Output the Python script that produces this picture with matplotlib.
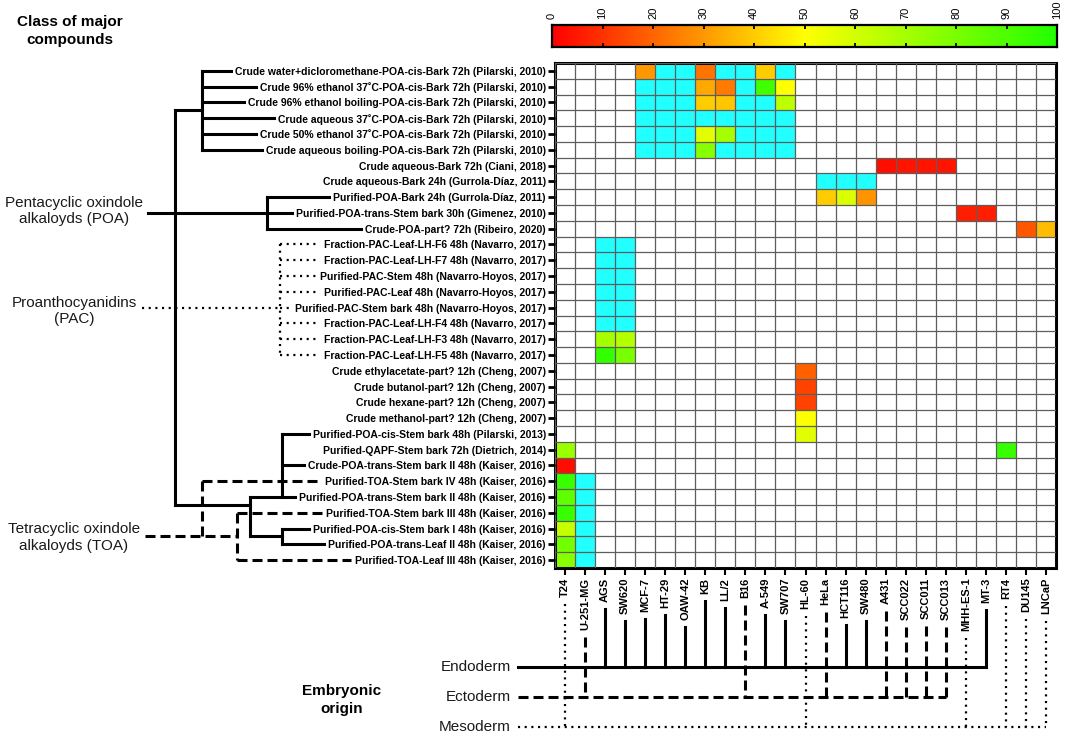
import numpy as np
import matplotlib
matplotlib.use('Agg')
import matplotlib.pyplot as plt
from matplotlib.colors import LinearSegmentedColormap, ListedColormap

plt.rcParams['font.family'] = ['Liberation Sans', 'DejaVu Sans']
plt.rcParams['lines.scale_dashes'] = False

W, H, DPI = 1065, 736, 100

# ---------------- data ----------------
rows = [
    "Crude water+dicloromethane-POA-cis-Bark 72h (Pilarski, 2010)",
    "Crude 96% ethanol 37˚C-POA-cis-Bark 72h (Pilarski, 2010)",
    "Crude 96% ethanol boiling-POA-cis-Bark 72h (Pilarski, 2010)",
    "Crude aqueous 37˚C-POA-cis-Bark 72h (Pilarski, 2010)",
    "Crude 50% ethanol 37˚C-POA-cis-Bark 72h (Pilarski, 2010)",
    "Crude aqueous boiling-POA-cis-Bark 72h (Pilarski, 2010)",
    "Crude aqueous-Bark 72h (Ciani, 2018)",
    "Crude aqueous-Bark 24h (Gurrola-Díaz, 2011)",
    "Purified-POA-Bark 24h (Gurrola-Díaz, 2011)",
    "Purified-POA-trans-Stem bark 30h (Gimenez, 2010)",
    "Crude-POA-part? 72h (Ribeiro, 2020)",
    "Fraction-PAC-Leaf-LH-F6 48h (Navarro, 2017)",
    "Fraction-PAC-Leaf-LH-F7 48h (Navarro, 2017)",
    "Purified-PAC-Stem 48h (Navarro-Hoyos, 2017)",
    "Purified-PAC-Leaf 48h (Navarro-Hoyos, 2017)",
    "Purified-PAC-Stem bark 48h (Navarro-Hoyos, 2017)",
    "Fraction-PAC-Leaf-LH-F4 48h (Navarro, 2017)",
    "Fraction-PAC-Leaf-LH-F3 48h (Navarro, 2017)",
    "Fraction-PAC-Leaf-LH-F5 48h (Navarro, 2017)",
    "Crude ethylacetate-part? 12h (Cheng, 2007)",
    "Crude butanol-part? 12h (Cheng, 2007)",
    "Crude hexane-part? 12h (Cheng, 2007)",
    "Crude methanol-part? 12h (Cheng, 2007)",
    "Purified-POA-cis-Stem bark 48h (Pilarski, 2013)",
    "Purified-QAPF-Stem bark 72h (Dietrich, 2014)",
    "Crude-POA-trans-Stem bark II 48h (Kaiser, 2016)",
    "Purified-TOA-Stem bark IV 48h (Kaiser, 2016)",
    "Purified-POA-trans-Stem bark II 48h (Kaiser, 2016)",
    "Purified-TOA-Stem bark III 48h (Kaiser, 2016)",
    "Purified-POA-cis-Stem bark I 48h (Kaiser, 2016)",
    "Purified-POA-trans-Leaf II 48h (Kaiser, 2016)",
    "Purified-TOA-Leaf III 48h (Kaiser, 2016)",
]

cols = ["T24", "U-251-MG", "AGS", "SW620", "MCF-7", "HT-29", "OAW-42", "KB",
        "LL/2", "B16", "A-549", "SW707", "HL-60", "HeLa", "HCT116", "SW480",
        "A431", "SCC022", "SCC011", "SCC013", "MHH-ES-1", "MT-3", "RT4",
        "DU145", "LNCaP"]

ND = "nd"  # tested, shown in cyan
cells = [
    {"MCF-7": 30, "HT-29": ND, "OAW-42": ND, "KB": 23, "LL/2": ND, "B16": ND, "A-549": 40, "SW707": ND},
    {"MCF-7": ND, "HT-29": ND, "OAW-42": ND, "KB": 33, "LL/2": 24, "B16": ND, "A-549": 93, "SW707": 50},
    {"MCF-7": ND, "HT-29": ND, "OAW-42": ND, "KB": 40, "LL/2": 39, "B16": ND, "A-549": ND, "SW707": 65},
    {"MCF-7": ND, "HT-29": ND, "OAW-42": ND, "KB": ND, "LL/2": ND, "B16": ND, "A-549": ND, "SW707": ND},
    {"MCF-7": ND, "HT-29": ND, "OAW-42": ND, "KB": 57, "LL/2": 70, "B16": ND, "A-549": ND, "SW707": ND},
    {"MCF-7": ND, "HT-29": ND, "OAW-42": ND, "KB": 77, "LL/2": ND, "B16": ND, "A-549": ND, "SW707": ND},
    {"A431": 3, "SCC022": 4, "SCC011": 4, "SCC013": 4},
    {"HeLa": ND, "HCT116": ND, "SW480": ND},
    {"HeLa": 40, "HCT116": 58, "SW480": 29},
    {"MHH-ES-1": 6, "MT-3": 6},
    {"DU145": 17, "LNCaP": 37},
    {"AGS": ND, "SW620": ND},
    {"AGS": ND, "SW620": ND},
    {"AGS": ND, "SW620": ND},
    {"AGS": ND, "SW620": ND},
    {"AGS": ND, "SW620": ND},
    {"AGS": ND, "SW620": ND},
    {"AGS": 70, "SW620": 67},
    {"AGS": 96, "SW620": 80},
    {"HL-60": 19},
    {"HL-60": 13},
    {"HL-60": 13},
    {"HL-60": 50},
    {"HL-60": 57},
    {"T24": 73, "RT4": 95},
    {"T24": 3},
    {"T24": 95, "U-251-MG": ND},
    {"T24": 86, "U-251-MG": ND},
    {"T24": 95, "U-251-MG": ND},
    {"T24": 63, "U-251-MG": ND},
    {"T24": 82, "U-251-MG": ND},
    {"T24": 77, "U-251-MG": ND},
]

cbar_ticks = [0, 10, 20, 30, 40, 50, 60, 70, 80, 90, 100]

endoderm = ["AGS", "SW620", "MCF-7", "HT-29", "OAW-42", "KB", "LL/2", "A-549",
            "SW707", "HCT116", "SW480", "MT-3"]
ectoderm = ["U-251-MG", "B16", "HeLa", "A431", "SCC022", "SCC011", "SCC013"]
mesoderm = ["T24", "HL-60", "MHH-ES-1", "RT4", "DU145", "LNCaP"]

# ---------------- figure ----------------
fig = plt.figure(figsize=(W / DPI, H / DPI), dpi=DPI)


def px_box(l, t, r, b):
    return [l / W, 1 - b / H, (r - l) / W, (b - t) / H]


nrow, ncol = len(rows), len(cols)
val = np.full((nrow, ncol), np.nan)
ndm = np.full((nrow, ncol), np.nan)
for i, d in enumerate(cells):
    for c, v in d.items():
        j = cols.index(c)
        if v == ND:
            ndm[i, j] = 1
        else:
            val[i, j] = v

cmap = LinearSegmentedColormap.from_list("ryg", ["#ff0000", "#ffff00", "#22ff00"])

ax = fig.add_axes(px_box(555, 63, 1056, 568))
xe = np.arange(ncol + 1) - 0.5
ye = np.arange(nrow + 1) - 0.5
ax.pcolormesh(xe, ye, np.ma.masked_invalid(val), cmap=cmap, vmin=0, vmax=100)
ax.pcolormesh(xe, ye, np.ma.masked_invalid(ndm), cmap=ListedColormap(["#22ffff"]), vmin=0, vmax=2)
ax.set_xlim(-0.5, ncol - 0.5)
ax.set_ylim(nrow - 0.5, -0.5)
ax.set_xticks(xe, minor=True)
ax.set_yticks(ye, minor=True)
ax.grid(which="minor", color="#5e5e5e", lw=0.9)
ax.set_axisbelow(False)
ax.set_xticks(range(ncol))
ax.set_xticklabels(cols, rotation=90, fontweight="bold", fontsize=8)
ax.set_yticks(range(nrow))
ax.set_yticklabels(rows, fontweight="bold", fontsize=7.5)
ax.tick_params(axis="x", which="major", direction="out", length=5, width=1.5, pad=2)
ax.tick_params(axis="y", which="major", direction="out", length=5, width=2, pad=1.5)
ax.tick_params(which="minor", length=0)
for s in ax.spines.values():
    s.set_linewidth(2.2)

# colorbar
cax = fig.add_axes(px_box(552, 25, 1057, 47))
grad = np.linspace(0, 100, 512)[None, :]
cax.imshow(grad, cmap=cmap, vmin=0, vmax=100, aspect="auto", extent=(0, 100, 0, 1))
cax.set_xlim(0, 100)
cax.set_yticks([])
cax.set_xticks(cbar_ticks)
cax.set_xticklabels([str(t) for t in cbar_ticks], rotation=90, fontsize=8)
cax.tick_params(axis="x", direction="in", top=True, bottom=True, labeltop=True,
                labelbottom=False, length=3, width=1.3, pad=4)
for s in cax.spines.values():
    s.set_linewidth(1.6)

# overlay in pixel coordinates
ov = fig.add_axes([0, 0, 1, 1])
ov.set_xlim(0, W)
ov.set_ylim(H, 0)
ov.axis("off")

fig.text(70 / W, 1 - 31 / H, "Class of major\ncompounds", ha="center", va="center",
         fontsize=11, fontweight="bold", linespacing=1.3)

fig.canvas.draw()
rend = fig.canvas.get_renderer()


def ry(r):
    return H - ax.transData.transform((0, r))[1]


def cx(name):
    return ax.transData.transform((cols.index(name), 0))[0]


ylabels = ax.get_yticklabels()
xlabels = ax.get_xticklabels()


def tstart(i):
    return ylabels[i].get_window_extent(rend).x0 - 4


def lbottom(name):
    return H - xlabels[cols.index(name)].get_window_extent(rend).y0 + 7


LW = 2.2
SOLID = dict(color="black", lw=LW, solid_capstyle="projecting", solid_joinstyle="miter")
DASH = dict(color="black", lw=LW, linestyle=(0, (7.2, 3.6)), dash_capstyle="butt")
DOT = dict(color="black", lw=1.6, linestyle=(0, (1.5, 3.3)), dash_capstyle="butt")


def seg(x0, y0, x1, y1, style):
    ov.plot([x0, x1], [y0, y1], **style)


def group_text(y, txt):
    t = ov.text(74, y, txt, ha="center", va="center", fontsize=11, linespacing=1.2,
                color="#1a1a1a")
    return t


# ---- solid tree ----
top_node = 202
for r in range(0, 6):
    seg(top_node, ry(r), tstart(r), ry(r), SOLID)
seg(top_node, ry(0), top_node, ry(5), SOLID)
main_x = 175
seg(main_x, ry(2.5), top_node, ry(2.5), SOLID)
seg(main_x, ry(2.5), main_x, ry(27.5), SOLID)

t_poa = group_text(ry(9) - 2, "Pentacyclic oxindole\nalkaloyds (POA)")
poa_node = 267
fig.canvas.draw()
poa_right = t_poa.get_window_extent(rend).x1
seg(poa_right + 5, ry(9), tstart(9), ry(9), SOLID)
seg(poa_node, ry(8), poa_node, ry(10), SOLID)
for r in (8, 10):
    seg(poa_node, ry(r), tstart(r), ry(r), SOLID)

seg(main_x, ry(27.5), 250, ry(27.5), SOLID)
seg(250, ry(27), 250, ry(29.5), SOLID)
sub_x = 282
seg(sub_x, ry(23), sub_x, ry(27), SOLID)
for r in (23, 25):
    seg(sub_x, ry(r), tstart(r), ry(r), SOLID)
seg(250, ry(27), tstart(27), ry(27), SOLID)
seg(250, ry(29.5), sub_x, ry(29.5), SOLID)
seg(sub_x, ry(29), sub_x, ry(30), SOLID)
for r in (29, 30):
    seg(sub_x, ry(r), tstart(r), ry(r), SOLID)

# ---- dotted PAC tree ----
t_pac = group_text(ry(15) + 3, "Proanthocyanidins\n(PAC)")
fig.canvas.draw()
pac_bb = t_pac.get_window_extent(rend)
pac_x = 280
seg(pac_bb.x1 + 5, ry(15), pac_x, ry(15), DOT)
seg(pac_x, ry(11), pac_x, ry(18), DOT)
for r in range(11, 19):
    if tstart(r) - pac_x > 6:
        seg(pac_x, ry(r), tstart(r), ry(r), DOT)

# ---- dashed TOA tree ----
t_toa = group_text(ry(29.5) + 1, "Tetracyclic oxindole\nalkaloyds (TOA)")
fig.canvas.draw()
toa_right = t_toa.get_window_extent(rend).x1
seg(toa_right + 5, ry(29.5), 237, ry(29.5), DASH)
seg(202, ry(26), 202, ry(29.5), DASH)
seg(202, ry(26), tstart(26), ry(26), DASH)
seg(237, ry(28), 237, ry(31), DASH)
for r in (28, 31):
    seg(237, ry(r), tstart(r), ry(r), DASH)

# ---- embryonic origin tree ----
germ = [("Endoderm", 667, endoderm, SOLID),
        ("Ectoderm", 697, ectoderm, DASH),
        ("Mesoderm", 727, mesoderm, DOT)]
for name, y, members, style in germ:
    ov.text(511, y, name, ha="right", va="center", fontsize=11, color="#1a1a1a")
    xs = [cx(m) for m in members]
    seg(518, y, max(xs), y, style)
    for m in members:
        seg(cx(m), lbottom(m), cx(m), y, style)

ov.text(342, 700, "Embryonic\norigin", ha="center", va="center", fontsize=11,
        fontweight="bold", linespacing=1.35)

fig.savefig("out.png", dpi=DPI)
